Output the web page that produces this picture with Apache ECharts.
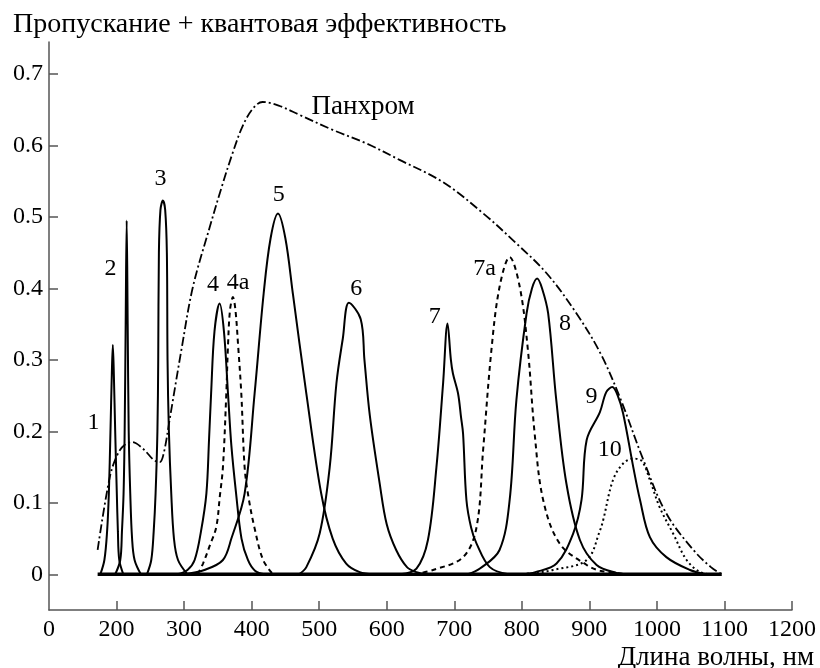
<!DOCTYPE html>
<html>
<head>
<meta charset="utf-8">
<script src="https://cdn.jsdelivr.net/npm/echarts@6/dist/echarts.min.js"></script>
<style>html,body{margin:0;padding:0;background:#fff}#c{width:820px;height:668px}</style>
</head>
<body>
<div id="c"></div>
<script>
// ---- data (wavelength nm, value) ----
const curve1 = [[176,0],[182,0.02],[186,0.06],[188.6,0.113],[191,0.2],[193,0.28],[194.5,0.321],[196,0.28],[198,0.2],[200.4,0.113],[202,0.06],[204,0.02],[210,0]];
const curve2 = [[198,0],[205.5,0.02],[208,0.06],[210.4,0.113],[212,0.2],[213.5,0.35],[215,0.495],[216.5,0.35],[218,0.2],[220.3,0.113],[223,0.05],[226.7,0.02],[236,0]];
const curve3 = [[245,0],[251.4,0.02],[255,0.06],[257.8,0.113],[260.5,0.2],[261.7,0.3],[262.7,0.45],[265,0.51],[268.6,0.523],[272,0.51],[274.5,0.45],[275.5,0.3],[277.5,0.2],[281,0.113],[285,0.05],[291,0.02],[305,0]];
const curve4 = [[290,0],[305,0.006],[315.6,0.02],[325,0.06],[333,0.113],[337,0.19],[340,0.253],[345,0.34],[352.6,0.379],[359,0.34],[365,0.253],[370,0.18],[377,0.113],[385,0.05],[394.5,0.02],[405,0.005],[420,0]];
const curve4a = [[320,0],[328,0.015],[338,0.04],[347.6,0.066],[353,0.11],[357.5,0.15],[362.5,0.253],[365,0.32],[368,0.37],[372.3,0.388],[376,0.37],[380,0.32],[384.7,0.253],[389.6,0.15],[395,0.11],[404,0.066],[417,0.02],[431.6,0]];
const curve5 = [[300,0],[330,0.006],[357.5,0.02],[370,0.05],[389.6,0.113],[404.4,0.253],[417.8,0.393],[428,0.47],[439,0.505],[450,0.47],[461,0.393],[481,0.253],[503,0.113],[520,0.05],[540,0.015],[560,0.003],[580,0]];
const curve6 = [[470,0],[481,0.01],[500.7,0.057],[515.6,0.15],[525.5,0.267],[535,0.33],[544,0.38],[561.5,0.357],[567,0.3],[575,0.222],[589.6,0.127],[600,0.07],[614,0.034],[630,0.01],[644,0.003],[660,0]];
const curve7 = [[620,0],[644,0.008],[661,0.048],[673.6,0.15],[683.5,0.268],[690,0.351],[695,0.3],[698,0.281],[705.6,0.253],[710,0.22],[713,0.197],[718,0.104],[725,0.065],[733,0.043],[752.6,0.01],[780,0]];
const curve7a = [[640,0],[668.6,0.006],[713,0.024],[733,0.066],[742.7,0.174],[755,0.314],[767,0.402],[782,0.444],[797,0.402],[809,0.314],[819,0.197],[831.6,0.104],[856,0.043],[896,0.013],[916,0.005],[960,0]];
const curve8 = [[720,0],[738,0.008],[767,0.034],[782,0.104],[792,0.244],[807,0.365],[815,0.4],[822.7,0.414],[830,0.4],[839,0.365],[851,0.244],[866,0.127],[886,0.048],[910.7,0.013],[940,0.002],[960,0]];
const curve9 = [[800,0],[820,0.003],[851.4,0.015],[876,0.057],[888.4,0.104],[896,0.188],[915.6,0.227],[925,0.255],[934,0.262],[942,0.25],[950,0.225],[965,0.15],[975,0.104],[989.6,0.052],[1014,0.024],[1049,0.006],[1073,0]];
const curve10 = [[800,0],[820,0.002],[846,0.006],[896,0.02],[916,0.062],[920.5,0.076],[935,0.132],[950,0.155],[965,0.162],[978,0.158],[989.6,0.132],[1004,0.094],[1024,0.057],[1044,0.02],[1064,0.003],[1080,0]];
const panchrom = [[172,0.034],[190,0.136],[202,0.169],[213,0.182],[223,0.185],[240,0.175],[255,0.16],[264,0.157],[270,0.17],[278.5,0.216],[296,0.314],[313,0.402],[338,0.486],[355,0.54],[372,0.59],[387,0.628],[402,0.652],[416,0.661],[440,0.656],[471,0.643],[520,0.622],[570,0.603],[619,0.58],[683,0.549],[743,0.505],[792,0.463],[837,0.421],[881,0.365],[916,0.31],[945,0.248],[980,0.16],[1014,0.085],[1054,0.034],[1080,0.01],[1096,0]];
const baseline = [[172,0],[1096,0]];

const labelTexts = ['1','2','3','4','4a','5','6','7','7a','8','9','10'];
const labelX = [166,191,265,342.7,380,440,555,671,745,864,903,930];
const labelY = [0.212,0.428,0.554,0.405,0.408,0.531,0.4,0.36,0.427,0.351,0.248,0.174];
const panchromLabel = { text: 'Панхром', x: 565, y: 0.654 };

const xLabelValues = [100,200,300,400,500,600,700,800,900,1000,1100,1200];
const xTickValues = [200,300,400,500,600,700,800,900,1000,1100,1200];
const yTickValues = [0,0.1,0.2,0.3,0.4,0.5,0.6,0.7];

const titleText = 'Пропускание + квантовая эффективность';
const xName = 'Длина волны, нм';

// ---- chart ----
const FONT = 'Liberation Serif';
const INK = '#000';
const AX = '#555';

function lineSeries(data, type, width) {
  return {
    type: 'line', data: data, showSymbol: false, smooth: 0.35, silent: true,
    lineStyle: { color: INK, width: width || 2, type: type || 'solid' }
  };
}

const chart = echarts.init(document.getElementById('c'), null, { renderer: 'canvas' });
chart.setOption({
  animation: false,
  backgroundColor: '#fff',
  title: [
    { text: titleText, left: 8, top: 6, textStyle: { fontFamily: FONT, fontSize: 28, fontWeight: 'normal', color: INK } },
    { text: xName, right: 1, top: 639, textStyle: { fontFamily: FONT, fontSize: 27, fontWeight: 'normal', color: INK } }
  ],
  grid: { left: 49, right: 28, top: 42, bottom: 58 },
  xAxis: {
    type: 'value', min: 100, max: 1200,
    axisLine: { show: true, onZero: false, lineStyle: { color: AX, width: 1.5 } },
    axisTick: { show: true, inside: true, length: 9, customValues: xTickValues, lineStyle: { color: AX, width: 1.5 } },
    axisLabel: { customValues: xLabelValues, margin: 8, fontFamily: FONT, fontSize: 24, color: INK,
      formatter: v => v === 100 ? '0' : String(v) },
    splitLine: { show: false }
  },
  yAxis: {
    type: 'value', min: -0.05, max: 0.745,
    axisLine: { show: true, lineStyle: { color: AX, width: 1.5 } },
    axisTick: { show: true, inside: true, length: 9, customValues: yTickValues, lineStyle: { color: AX, width: 1.5 } },
    axisLabel: { customValues: yTickValues, margin: 6, fontFamily: FONT, fontSize: 24, color: INK,
      formatter: v => v === 0 ? '0' : v.toFixed(1) },
    splitLine: { show: false }
  },
  series: [
    lineSeries(baseline, 'solid', 3.5),
    lineSeries(curve1), lineSeries(curve2), lineSeries(curve3),
    lineSeries(curve4), lineSeries(curve4a, [5, 4]),
    lineSeries(curve5), lineSeries(curve6), lineSeries(curve7),
    lineSeries(curve7a, [5, 4]), lineSeries(curve8), lineSeries(curve9),
    lineSeries(curve10, [2, 3]),
    lineSeries(panchrom, [9, 3, 2, 3], 1.8),
    {
      type: 'scatter', symbolSize: 0, silent: true, itemStyle: { opacity: 1 },
      data: labelTexts.map((t, i) => ({ name: t, value: [labelX[i], labelY[i]] })),
      label: { show: true, position: 'inside', formatter: p => p.name, fontFamily: FONT, fontSize: 24, color: INK }
    },
    {
      type: 'scatter', symbolSize: 0, silent: true, itemStyle: { opacity: 1 },
      data: [{ name: panchromLabel.text, value: [panchromLabel.x, panchromLabel.y] }],
      label: { show: true, position: 'inside', formatter: p => p.name, fontFamily: FONT, fontSize: 27, color: INK }
    }
  ]
});
</script>
</body>
</html>
